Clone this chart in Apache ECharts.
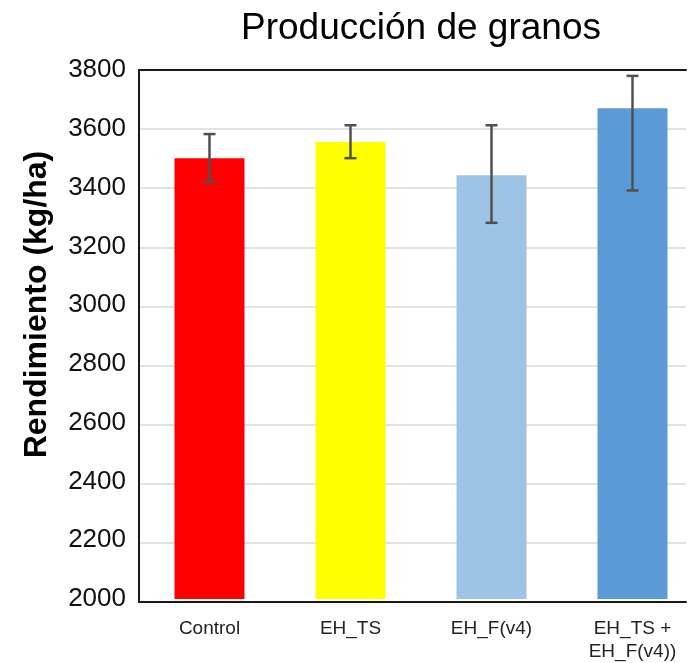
<!DOCTYPE html>
<html>
<head>
<meta charset="utf-8">
<script src="https://cdn.jsdelivr.net/npm/echarts@6/dist/echarts.min.js"></script>
<style>
html,body{margin:0;padding:0;background:#fff;overflow:hidden;width:695px;height:663px;}
#chart{width:712px;height:663px;}
</style>
</head>
<body>
<div id="chart"></div>
<script>
var categories = ['Control', 'EH_TS', 'EH_F(v4)', 'EH_TS +\nEH_F(v4))'];
var yields = [3500, 3555, 3442, 3670];
var errLow = [3420, 3500, 3280, 3390];
var errHigh = [3582, 3612, 3612, 3780];
var barColors = ['#FF0000', '#FFFF00', '#9DC3E6', '#5B9BD5'];
var yMin = 2000, yMax = 3800, yStep = 200;

var FONT = 'Liberation Sans, Arial, sans-serif';
var chart = echarts.init(document.getElementById('chart'));

var errData = categories.map(function (c, i) { return [i, errLow[i], errHigh[i]]; });
var frameLine = { show: true, lineStyle: { color: '#1a1a1a', width: 2 } };

chart.setOption({
  animation: false,
  backgroundColor: '#fff',
  title: {
    text: 'Producción de granos',
    left: 236, top: 5,
    textStyle: { fontFamily: FONT, fontSize: 37, fontWeight: 'normal', color: '#000' }
  },
  grid: [
    { left: 139, top: 70, width: 564, bottom: 61, containLabel: false },
    { left: 139, top: 70, width: 547, bottom: 61, containLabel: false }
  ],
  xAxis: [
    {
      type: 'category', gridIndex: 0, data: categories,
      axisLine: { show: false }, axisTick: { show: false },
      axisLabel: { fontFamily: FONT, fontSize: 19, color: '#222', margin: 18, lineHeight: 23, interval: 0 }
    },
    { type: 'value', gridIndex: 1, position: 'bottom', min: 0, max: 1, axisLine: frameLine, axisTick: { show: false }, axisLabel: { show: false }, splitLine: { show: false }, z: 10 },
    { type: 'value', gridIndex: 1, position: 'top', min: 0, max: 1, axisLine: frameLine, axisTick: { show: false }, axisLabel: { show: false }, splitLine: { show: false }, z: 10 }
  ],
  yAxis: [
    {
      type: 'value', gridIndex: 0, min: yMin, max: yMax, interval: yStep,
      name: 'Rendimiento (kg/ha)', nameLocation: 'middle', nameGap: 86,
      nameTextStyle: { fontFamily: FONT, fontSize: 32, fontWeight: 'bold', color: '#000', padding: [0, 0, 0, 60] },
      axisLine: { show: false }, axisTick: { show: false }, splitLine: { show: false },
      axisLabel: { fontFamily: FONT, fontSize: 26, color: '#111', margin: 13, formatter: function (v) { return String(v); } }
    },
    {
      type: 'value', gridIndex: 1, position: 'left', min: yMin, max: yMax, interval: yStep,
      axisLine: frameLine, axisTick: { show: false }, axisLabel: { show: false },
      splitLine: { show: false }, z: 10
    },
    {
      type: 'value', gridIndex: 1, position: 'right', min: yMin, max: yMax, interval: yStep,
      axisLine: frameLine, axisTick: { show: false }, axisLabel: { show: false },
      splitLine: { show: false }, z: 10
    },
    {
      type: 'value', gridIndex: 1, position: 'left', min: yMin, max: yMax, interval: yStep,
      axisLine: { show: false }, axisTick: { show: false }, axisLabel: { show: false },
      splitLine: { show: true, lineStyle: { color: '#d9d9d9', width: 1.5 } }, z: 0
    }
  ],
  series: [
    {
      type: 'bar', xAxisIndex: 0, yAxisIndex: 0, barWidth: 70,
      data: yields.map(function (v, i) { return { value: v, itemStyle: { color: barColors[i] } }; }),
      z: 2
    },
    {
      type: 'custom', xAxisIndex: 0, yAxisIndex: 0, z: 5,
      data: errData,
      renderItem: function (params, api) {
        var x = api.value(0);
        var lo = api.coord([x, api.value(1)]);
        var hi = api.coord([x, api.value(2)]);
        var hw = 6;
        var st = { stroke: '#505050', lineWidth: 2.5 };
        return {
          type: 'group',
          children: [
            { type: 'line', shape: { x1: lo[0], y1: lo[1], x2: hi[0], y2: hi[1] }, style: st },
            { type: 'line', shape: { x1: lo[0] - hw, y1: lo[1], x2: lo[0] + hw, y2: lo[1] }, style: st },
            { type: 'line', shape: { x1: hi[0] - hw, y1: hi[1], x2: hi[0] + hw, y2: hi[1] }, style: st }
          ]
        };
      }
    }
  ]
});
</script>
</body>
</html>
